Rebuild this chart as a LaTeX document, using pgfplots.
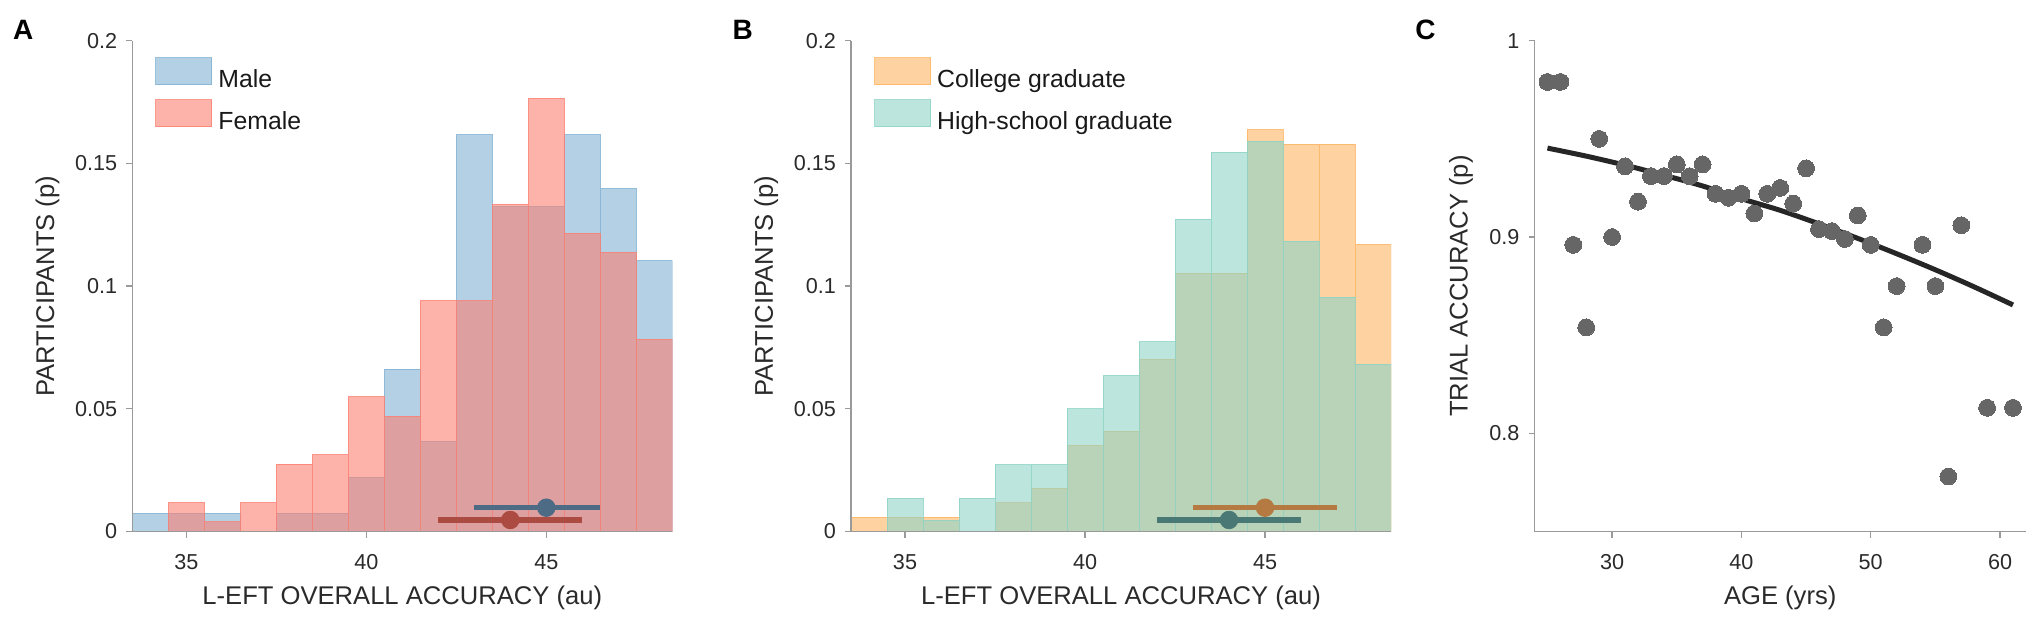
\documentclass[border=0pt]{standalone}
\usepackage{fontspec}
\setmainfont{Liberation Sans}
\usepackage{pgfplots}
\pgfplotsset{compat=1.18}

\definecolor{maleC}{HTML}{80B1D3}
\definecolor{femaleC}{HTML}{FB8072}
\definecolor{collC}{HTML}{FDB462}
\definecolor{hsC}{HTML}{8DD3C7}
\definecolor{maleD}{HTML}{4D6B85}
\definecolor{femaleD}{HTML}{AB4B41}
\definecolor{collD}{HTML}{B57942}
\definecolor{hsD}{HTML}{4A7874}
\definecolor{axisgray}{HTML}{9A9A9A}
\definecolor{txt}{HTML}{2A2A2A}
\definecolor{dotC}{HTML}{666666}
\definecolor{fitC}{HTML}{262626}

\pgfplotsset{
  panel/.style={
    scale only axis,
    height=245.4pt,
    axis lines=left,
    axis line style={-, draw=axisgray, line width=0.65pt},
    tick style={draw=axisgray, line width=0.65pt},
    tick align=outside,
    major tick length=3pt,
    axis on top,
    tick label style={font=\fontsize{10.8}{12}\selectfont, text=txt},
    xticklabel style={anchor=north, yshift=-4.8pt},
    yticklabel style={anchor=east, xshift=-1pt},
    every axis x label/.style={at={(axis description cs:0.5,0)}, yshift=-33pt, anchor=center, font=\fontsize{12.8}{14}\selectfont, text=txt},
    legend style={at={(rel axis cs:0,1)}, anchor=north west, xshift=11.35pt, yshift=-8pt,
      draw=none, fill=none, inner sep=0pt, row sep=4.5pt, column sep=3pt,
      font=\fontsize{12.4}{14}\selectfont, text=black!90, nodes={inner sep=0pt}},
    legend cell align=left,
  },
  hist/.style={ybar, bar width=1, bar shift=0pt, fill=#1, fill opacity=0.6, draw=#1, draw opacity=0.8, line width=0.5pt,
    legend image code/.code={\draw[##1] (0pt,-2.35pt) rectangle (28pt,11.15pt);}},
  histpanel/.style={panel, width=270pt, xmin=33.5, xmax=48.5, ymin=0, ymax=0.2,
    xtick={35,40,45}, xticklabels={35,40,45},
    ytick={0,0.05,0.1,0.15,0.2}, yticklabels={0,0.05,0.1,0.15,0.2},
    xlabel={L-EFT OVERALL ACCURACY (au)}, ylabel={PARTICIPANTS (p)},
    every axis y label/.style={at={(axis description cs:0,0.5)}, xshift=-42.4pt, rotate=90, anchor=center, font=\fontsize{12.8}{14}\selectfont, text=txt}},
}

\begin{document}
\begin{tikzpicture}
\useasboundingbox (0,0) rectangle (1016.5pt,310.5pt);

% ---------------- Panel A ----------------
\begin{axis}[histpanel, at={(66.15pt,44.75pt)}, anchor=south west]
\addplot[hist=maleC] coordinates {
 (34,0.00735) (35,0.00735) (36,0.00735) (38,0.00735) (39,0.00735) (40,0.02206)
 (41,0.06618) (42,0.03676) (43,0.16176) (44,0.13235) (45,0.13235) (46,0.16176)
 (47,0.13971) (48,0.11029)};
\addlegendentry{Male}
\addplot[hist=femaleC] coordinates {
 (35,0.01176) (36,0.00392) (37,0.01176) (38,0.02745) (39,0.03137) (40,0.05490)
 (41,0.04706) (42,0.09412) (43,0.09412) (44,0.13333) (45,0.17647) (46,0.12157)
 (47,0.11373) (48,0.07843)};
\addlegendentry{Female}
\addplot[forget plot, maleD, line width=2.8pt] coordinates {(43,0.0097) (46.5,0.0097)};
\addplot[forget plot, only marks, mark=*, mark size=4.4pt, mark options={draw=maleD, fill=maleD}] coordinates {(45,0.0097)};
\addplot[forget plot, femaleD, line width=2.8pt] coordinates {(42,0.0047) (46,0.0047)};
\addplot[forget plot, only marks, mark=*, mark size=4.4pt, mark options={draw=femaleD, fill=femaleD}] coordinates {(44,0.0047)};
\end{axis}

% ---------------- Panel B ----------------
\begin{axis}[histpanel, at={(425.5pt,44.75pt)}, anchor=south west]
\addplot[hist=collC] coordinates {
 (34,0.00585) (35,0.00585) (36,0.00585) (38,0.01170) (39,0.01754) (40,0.03509)
 (41,0.04094) (42,0.07018) (43,0.10526) (44,0.10526) (45,0.16374) (46,0.15789)
 (47,0.15789) (48,0.11696)};
\addlegendentry{College graduate}
\addplot[hist=hsC] coordinates {
 (35,0.01364) (36,0.00455) (37,0.01364) (38,0.02727) (39,0.02727) (40,0.05000)
 (41,0.06364) (42,0.07727) (43,0.12727) (44,0.15455) (45,0.15909) (46,0.11818)
 (47,0.09545) (48,0.06818)};
\addlegendentry{High-school graduate}
\addplot[forget plot, collD, line width=2.8pt] coordinates {(43,0.0097) (47,0.0097)};
\addplot[forget plot, only marks, mark=*, mark size=4.4pt, mark options={draw=collD, fill=collD}] coordinates {(45,0.0097)};
\addplot[forget plot, hsD, line width=2.8pt] coordinates {(42,0.0047) (46,0.0047)};
\addplot[forget plot, only marks, mark=*, mark size=4.4pt, mark options={draw=hsD, fill=hsD}] coordinates {(44,0.0047)};
\end{axis}

% ---------------- Panel C ----------------
\begin{axis}[panel, at={(767.25pt,44.75pt)}, anchor=south west, width=245.7pt,
  xmin=24, xmax=62, ymin=0.75, ymax=1,
  xtick={30,40,50,60}, xticklabels={30,40,50,60},
  ytick={0.8,0.9,1}, yticklabels={0.8,0.9,1},
  xlabel={AGE (yrs)}, ylabel={TRIAL ACCURACY (p)},
  every axis y label/.style={at={(axis description cs:0,0.5)}, xshift=-36.75pt, rotate=90, anchor=center, font=\fontsize{12.8}{14}\selectfont, text=txt},
  clip=false]
\addplot[only marks, mark=*, mark size=4.2pt, mark options={draw=dotC, fill=dotC, line width=0pt}] coordinates {
 (25,0.979) (26,0.979) (27,0.896) (28,0.854) (29,0.950) (30,0.900) (31,0.936)
 (32,0.918) (33,0.931) (34,0.931) (35,0.937) (36,0.931) (37,0.937) (38,0.922)
 (39,0.920) (40,0.922) (41,0.912) (42,0.922) (43,0.925) (44,0.917) (45,0.935)
 (46,0.904) (47,0.903) (48,0.899) (49,0.911) (50,0.896) (51,0.854) (52,0.875)
 (54,0.896) (55,0.875) (56,0.778) (57,0.906) (59,0.813) (61,0.813)};
\addplot[fitC, line width=2.5pt, smooth] coordinates {
 (25,0.9453) (28,0.9412) (31,0.9366) (34,0.9315) (37,0.9260) (40,0.9195)
 (43,0.9136) (46,0.9067) (49,0.8993) (52,0.8915) (55,0.8833) (58,0.8746) (61,0.8654)};
\end{axis}

% panel letters
\node[font=\bfseries\fontsize{14}{16}\selectfont] at (11.65pt,295.5pt) {A};
\node[font=\bfseries\fontsize{14}{16}\selectfont] at (371.3pt,295.5pt) {B};
\node[font=\bfseries\fontsize{14}{16}\selectfont] at (712.7pt,295.5pt) {C};
\end{tikzpicture}
\end{document}
